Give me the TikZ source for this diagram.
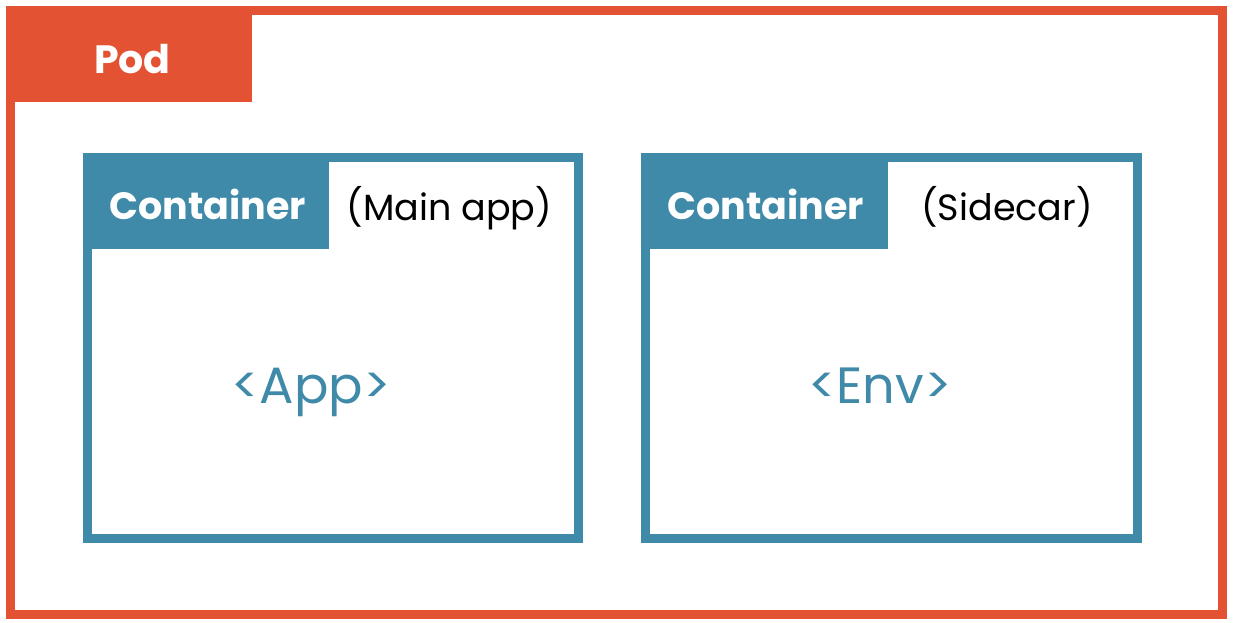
\documentclass[tikz,border=0pt]{standalone}
\usepackage{fontspec}
\setmainfont{Poppins}
\definecolor{podred}{HTML}{E35232}
\definecolor{teal}{HTML}{3F8AA9}
\begin{document}
\begin{tikzpicture}[x=1pt,y=-1pt,
  podbox/.style={draw=podred,line width=9pt,inner sep=0,outer sep=0},
  podtab/.style={fill=podred,inner sep=0,outer sep=0,anchor=north west},
  cbox/.style={draw=teal,line width=9pt,inner sep=0,outer sep=0},
  ctab/.style={fill=teal,inner sep=0,outer sep=0,anchor=north west,minimum width=246pt,minimum height=96pt},
  txt/.style={inner sep=0,anchor=base},
  wbold/.style={txt,text=white,font=\bfseries\fontsize{38}{40}\selectfont},
  blk/.style={txt,text=black,font=\fontsize{36.5}{40}\selectfont},
  big/.style={txt,text=teal,font=\fontsize{51}{55}\selectfont}]
\useasboundingbox (0,0) rectangle (1240,622);
\fill[white] (0,0) rectangle (1240,622);
\node[podbox,minimum width=1212pt,minimum height=603.5pt] (pod) at (616.5,312.25) {};
\node[podtab,minimum width=246pt,minimum height=96pt] (podtab) at (6,6) {};
\node[wbold,font=\bfseries\fontsize{39.5}{42}\selectfont] (podlbl) at (132.5,73) {Pod};
\node[cbox,minimum width=491pt,minimum height=381pt] (c1) at (333,348) {};
\node[ctab] (t1) at (83,153) {};
\node[wbold] (c1lbl) at (207.5,219) {Container};
\node[blk] (c1sub) at (449.5,220) {(Main app)};
\node[big] (app) at (311,403) {<App>};
\node[cbox,minimum width=492pt,minimum height=381pt] (c2) at (891.5,348) {};
\node[ctab,minimum width=247pt] (t2) at (641,153) {};
\node[wbold] (c2lbl) at (765.5,219) {Container};
\node[blk] (c2sub) at (1007,220) {(Sidecar)};
\node[big] (env) at (880,403) {<Env>};
\end{tikzpicture}
\end{document}
